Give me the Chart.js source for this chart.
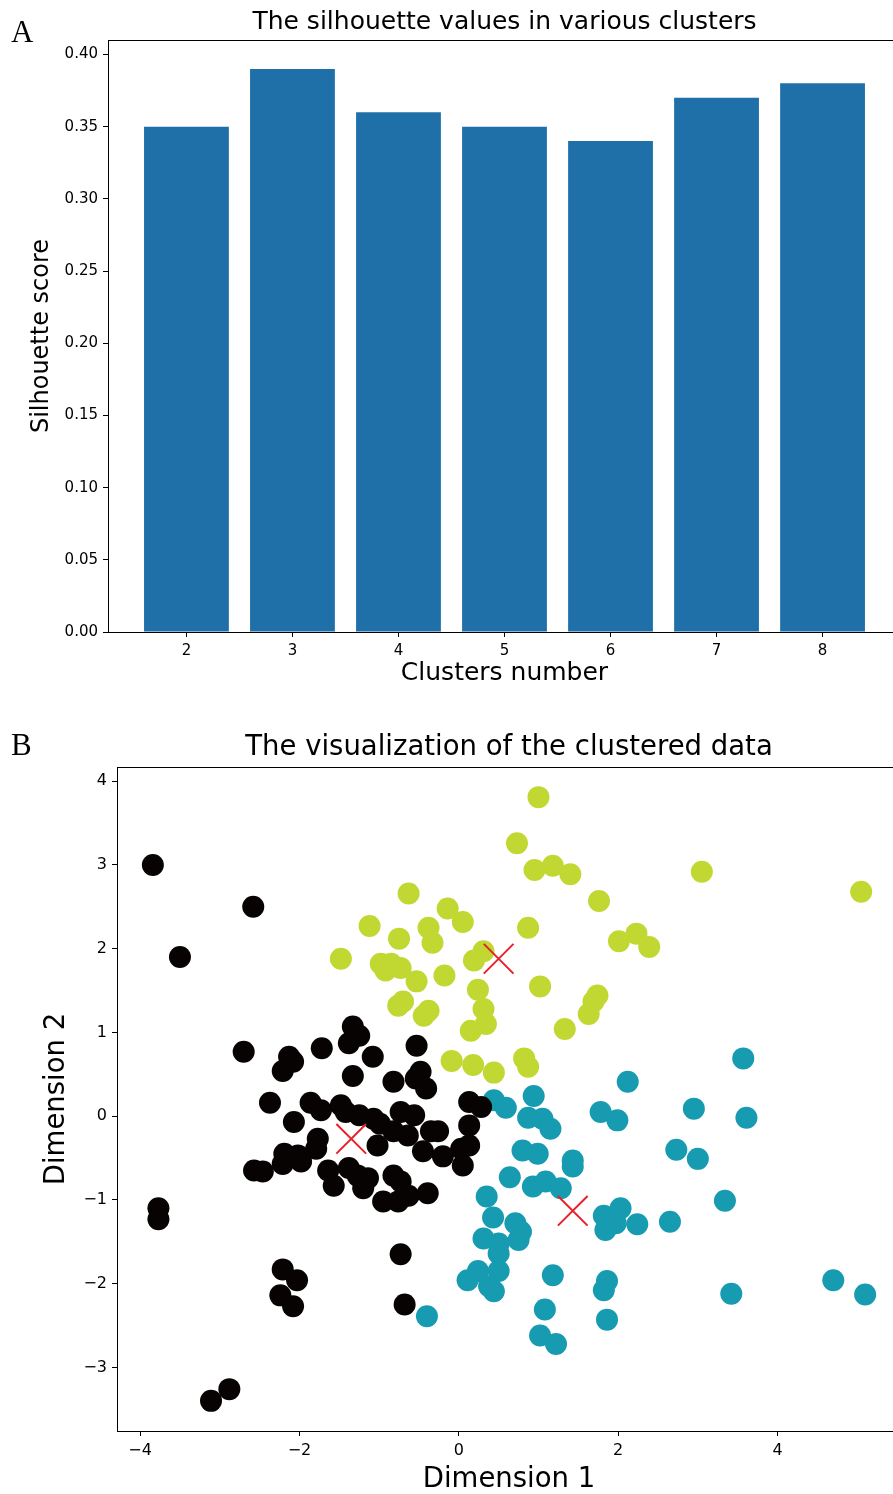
<!DOCTYPE html>
<html>
<head>
<meta charset="utf-8">
<script src="https://cdn.jsdelivr.net/npm/chart.js@4"></script>
<style>
  html, body { margin: 0; padding: 0; background: #fff; overflow: hidden; }
  canvas { position: absolute; left: 0; }
  #chartA { top: 0; }
  #chartB { top: 700px; }
</style>
</head>
<body>
<canvas id="chartA" width="910" height="700"></canvas>
<canvas id="chartB" width="910" height="800"></canvas>
<script>
// panel A: silhouette score per number of clusters
const clusters = [2, 3, 4, 5, 6, 7, 8];
const silhouette = [0.35, 0.39, 0.36, 0.35, 0.34, 0.37, 0.38];
const scoreTicks = [0, 0.05, 0.10, 0.15, 0.20, 0.25, 0.30, 0.35, 0.40];

// panel B: points of the three clusters and their centres
const blackPoints = [
  [-3.84, 3.00], [-2.58, 2.50], [-3.50, 1.90], [-2.70, 0.77], [-3.77, -1.10], [-3.77, -1.23],
  [-3.11, -3.40], [-2.88, -3.26], [-2.21, -1.83], [-2.03, -1.96], [-2.24, -2.14], [-2.08, -2.27],
  [-0.73, -1.65], [-0.68, -2.25], [-2.57, -0.65], [-2.46, -0.66], [-2.37, 0.16], [-2.21, 0.54],
  [-2.13, 0.71], [-2.08, 0.65], [-1.72, 0.81], [-2.07, -0.07], [-2.19, -0.45], [-2.21, -0.57],
  [-2.02, -0.47], [-1.98, -0.54], [-1.86, 0.16], [-1.73, 0.07], [-1.77, -0.27], [-1.79, -0.39],
  [-1.64, -0.65], [-1.57, -0.83], [-1.48, 0.13], [-1.42, 0.05], [-1.33, 1.07], [-1.25, 0.96],
  [-1.38, 0.87], [-1.33, 0.48], [-1.08, 0.71], [-1.38, -0.62], [-1.27, -0.71], [-1.14, -0.74],
  [-1.20, -0.86], [-1.25, 0.01], [-1.07, -0.03], [-0.99, -0.09], [-1.02, -0.35], [-0.95, -1.02],
  [-0.76, -1.02], [-0.82, -0.71], [-0.73, -0.78], [-0.82, -0.18], [-0.64, -0.23], [-0.82, 0.41],
  [-0.73, 0.05], [-0.63, -0.95], [-0.39, -0.92], [-0.56, 0.01], [-0.53, 0.84], [-0.48, 0.53],
  [-0.54, 0.45], [-0.41, 0.33], [-0.45, -0.42], [-0.35, -0.18], [-0.26, -0.18], [-0.20, -0.48],
  [0.03, -0.39], [0.13, -0.35], [0.05, -0.59], [0.13, 0.17], [0.28, 0.11], [0.13, -0.11]
];
const greenPoints = [
  [1.00, 3.81], [0.73, 3.26], [0.95, 2.94], [1.18, 2.99], [1.40, 2.89], [1.76, 2.57],
  [-0.63, 2.66], [-0.14, 2.48], [0.05, 2.32], [-0.38, 2.25], [-0.33, 2.07], [-1.12, 2.27],
  [-0.75, 2.12], [0.87, 2.25], [2.01, 2.09], [2.23, 2.18], [2.39, 2.02], [-1.48, 1.88],
  [-0.98, 1.82], [-0.85, 1.82], [-0.73, 1.77], [-0.92, 1.74], [-0.53, 1.61], [-0.18, 1.68],
  [0.19, 1.86], [0.31, 1.97], [0.24, 1.51], [1.02, 1.55], [1.74, 1.44], [1.69, 1.37],
  [1.63, 1.22], [-0.70, 1.37], [-0.76, 1.32], [-0.38, 1.26], [-0.44, 1.20], [0.31, 1.28],
  [0.34, 1.10], [0.15, 1.02], [1.33, 1.04], [-0.09, 0.66], [0.18, 0.61], [0.44, 0.52],
  [0.82, 0.69], [0.87, 0.59], [3.05, 2.92], [5.05, 2.68]
];
const tealPoints = [
  [2.12, 0.41], [2.95, 0.09], [0.44, 0.19], [0.59, 0.10], [0.94, 0.24], [0.87, -0.02],
  [1.05, -0.03], [1.15, -0.15], [1.78, 0.05], [1.99, -0.05], [0.80, -0.41], [0.99, -0.45],
  [1.43, -0.53], [1.43, -0.60], [2.73, -0.40], [3.00, -0.51], [0.64, -0.73], [0.93, -0.84],
  [1.09, -0.78], [1.28, -0.86], [0.35, -0.96], [0.43, -1.21], [0.71, -1.28], [0.75, -1.48],
  [0.78, -1.38], [0.31, -1.46], [0.50, -1.52], [0.50, -1.64], [1.82, -1.19], [2.03, -1.10],
  [1.84, -1.36], [1.97, -1.28], [2.24, -1.29], [2.65, -1.26], [0.24, -1.85], [0.11, -1.96],
  [0.50, -1.85], [0.44, -2.09], [0.38, -2.03], [1.18, -1.90], [1.08, -2.31], [1.02, -2.62],
  [1.22, -2.72], [1.86, -1.97], [1.82, -2.08], [1.86, -2.43], [3.57, 0.69], [3.61, -0.02],
  [3.34, -1.01], [3.42, -2.12], [4.70, -1.96], [5.10, -2.13], [-0.40, -2.39]
];
const centres = [[0.50, 1.88], [-1.35, -0.27], [1.43, -1.13]];
const dimTicksX = [-4, -2, 0, 2, 4];
const dimTicksY = [-3, -2, -1, 0, 1, 2, 3, 4];

const fontFamily = '"DejaVu Sans", sans-serif';
const minus = v => String(v).replace('-', '\u2212');

// box around the plot area and the panel letter
const frame = {
  id: 'frame',
  afterDraw(chart, args, opts) {
    const { ctx, chartArea: a } = chart;
    ctx.save();
    ctx.strokeStyle = '#000';
    ctx.lineWidth = 1;
    ctx.strokeRect(Math.round(a.left) + 0.5, Math.round(a.top) + 0.5,
      Math.round(a.right - a.left), Math.round(a.bottom - a.top));
    ctx.fillStyle = '#000';
    ctx.font = opts.font;
    ctx.textBaseline = 'alphabetic';
    ctx.fillText(opts.letter, opts.x, opts.y);
    ctx.restore();
  }
};

// fixed axis box, no extra room for the end labels
function fixSize(key, size) {
  return s => {
    s[key] = size;
    s.paddingLeft = s.paddingRight = s.paddingTop = s.paddingBottom = 0;
  };
}

function axis(opts) {
  return Object.assign({
    type: 'linear',
    offset: false,
    grid: { drawOnChartArea: false, offset: false, tickLength: 5, color: '#000' },
    border: { color: '#000' },
    ticks: { color: '#000', padding: 5 }
  }, opts);
}

new Chart(document.getElementById('chartA'), {
  type: 'bar',
  data: {
    datasets: [{
      data: clusters.map((c, i) => ({ x: c, y: silhouette[i] })),
      backgroundColor: '#1f70a9',
      barPercentage: 0.8,
      categoryPercentage: 1
    }]
  },
  options: {
    responsive: false,
    animation: false,
    events: [],
    layout: { autoPadding: false, padding: { left: 0, right: 9, top: 0, bottom: 0 } },
    plugins: {
      legend: { display: false },
      tooltip: { enabled: false },
      title: {
        display: true,
        fullSize: false,
        text: 'The silhouette values in various clusters',
        color: '#000',
        font: { family: fontFamily, size: 25, weight: 'normal' },
        padding: { top: 7, bottom: 3 }
      },
      frame: { letter: 'A', x: 11, y: 42, font: '31px "Liberation Serif"' }
    },
    scales: {
      x: axis({
        min: 1.26,
        max: 8.74,
        afterFit: fixSize('height', 68),
        afterBuildTicks: s => { s.ticks = clusters.map(v => ({ value: v })); },
        ticks: { color: '#000', padding: 5, font: { family: fontFamily, size: 15 }, callback: v => String(v) },
        title: {
          display: true, text: 'Clusters number', color: '#000',
          font: { family: fontFamily, size: 25 }, padding: { top: 0, bottom: 12 }
        }
      }),
      y: axis({
        min: 0,
        max: 0.41,
        afterFit: fixSize('width', 108),
        afterBuildTicks: s => { s.ticks = scoreTicks.map(v => ({ value: v })); },
        ticks: { color: '#000', padding: 5, font: { family: fontFamily, size: 15 }, callback: v => v.toFixed(2) },
        title: {
          display: true, text: 'Silhouette score', color: '#000',
          font: { family: fontFamily, size: 24 }, padding: { top: 27.6, bottom: 0 }
        }
      })
    }
  },
  plugins: [frame]
});

new Chart(document.getElementById('chartB'), {
  type: 'scatter',
  data: {
    datasets: [
      { data: centres, pointStyle: 'crossRot', pointRadius: 21, borderColor: '#e8202a', borderWidth: 2, backgroundColor: 'rgba(0,0,0,0)' },
      { data: blackPoints, pointRadius: 11, backgroundColor: '#070303', borderWidth: 0 },
      { data: tealPoints, pointRadius: 11, backgroundColor: '#169bb1', borderWidth: 0 },
      { data: greenPoints, pointRadius: 11, backgroundColor: '#c1d832', borderWidth: 0 }
    ]
  },
  options: {
    responsive: false,
    animation: false,
    events: [],
    layout: { autoPadding: false, padding: { left: 0, right: 9, top: 0, bottom: 0 } },
    plugins: {
      legend: { display: false },
      tooltip: { enabled: false },
      title: {
        display: true,
        fullSize: false,
        text: 'The visualization of the clustered data',
        color: '#000',
        font: { family: fontFamily, size: 27.5, weight: 'normal' },
        padding: { top: 31.5, bottom: 2.5 }
      },
      frame: { letter: 'B', x: 11, y: 55, font: '31px "Liberation Serif"' }
    },
    scales: {
      x: axis({
        min: -4.29,
        max: 5.55,
        afterFit: fixSize('height', 69),
        afterBuildTicks: s => { s.ticks = dimTicksX.map(v => ({ value: v })); },
        ticks: { color: '#000', padding: 5, font: { family: fontFamily, size: 16 }, callback: minus },
        title: {
          display: true, text: 'Dimension 1', color: '#000',
          font: { family: fontFamily, size: 27.5 }, padding: { top: 0, bottom: 3.5 }
        }
      }),
      y: axis({
        min: -3.76,
        max: 4.17,
        afterFit: fixSize('width', 117),
        afterBuildTicks: s => { s.ticks = dimTicksY.map(v => ({ value: v })); },
        ticks: { color: '#000', padding: 5, font: { family: fontFamily, size: 16 }, callback: minus },
        title: {
          display: true, text: 'Dimension 2', color: '#000',
          font: { family: fontFamily, size: 27.5 }, padding: { top: 40.5, bottom: 0 }
        }
      })
    }
  },
  plugins: [frame]
});
</script>
</body>
</html>
